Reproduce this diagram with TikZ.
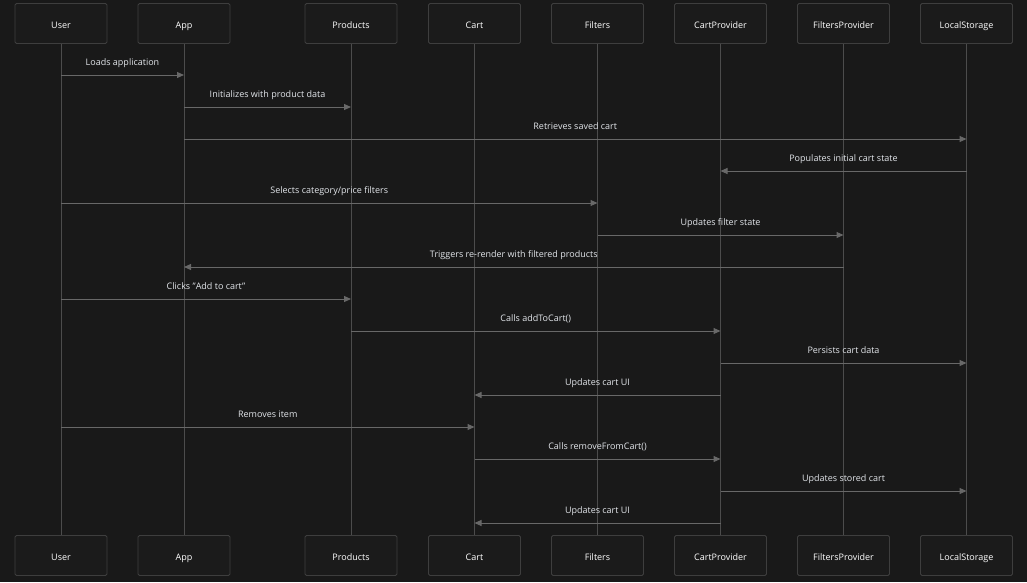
\documentclass[tikz,border=0pt]{standalone}
\usepackage{fontspec}
\setmainfont{Open Sans}
\usetikzlibrary{arrows.meta,calc}
\definecolor{bg}{HTML}{191919}
\definecolor{boxfill}{HTML}{1B1B1B}
\definecolor{boxline}{HTML}{3E3E3E}
\definecolor{lifeline}{HTML}{4C4C4C}
\definecolor{msgline}{HTML}{686868}
\definecolor{msgtext}{HTML}{E2E5EA}
\tikzset{
  actor/.style={draw=boxline, fill=boxfill, rounded corners=1.5pt, line width=0.8pt,
    minimum width=92pt, minimum height=40pt, inner sep=0pt, text=white,
    text height=10pt, text depth=0pt,
    font=\fontsize{9}{10}\selectfont},
  life/.style={draw=lifeline, line width=1pt},
  msg/.style={draw=msgline, line width=1pt, -{Triangle[length=7pt,width=6pt]}},
  lbl/.style={text=msgtext, font=\fontsize{9}{10}\selectfont, inner sep=0pt, anchor=base}
}
\begin{document}
\begin{tikzpicture}[x=1pt,y=-1pt]
\useasboundingbox[fill=bg] (0,0) rectangle (1027,582);
% actors
\foreach \n/\t/\x in {User/User/61, App/App/184, Products/Products/351, Cart/Cart/474.5,
  Filters/Filters/597.5, CP/CartProvider/720.5, FP/FiltersProvider/843.5, LS/LocalStorage/966.5}{
  \node[actor] (t\n) at (\x,23.5) {\t};
  \node[actor] (b\n) at (\x,555.5) {\t};
  \draw[life] (t\n.south) -- (b\n.north);
}
% messages
\foreach \i/\a/\b/\y/\txt in {
  1/User/App/75/{Loads application},
  2/App/Products/107/{Initializes with product data},
  3/App/LS/139/{Retrieves saved cart},
  4/LS/CP/171/{Populates initial cart state},
  5/User/Filters/203/{Selects category/price filters},
  6/Filters/FP/235/{Updates filter state},
  7/FP/App/267/{Triggers re-render with filtered products},
  8/User/Products/299/{Clicks "Add to cart"},
  9/Products/CP/331/{Calls addToCart()},
  10/CP/LS/363/{Persists cart data},
  11/CP/Cart/395/{Updates cart UI},
  12/User/Cart/427/{Removes item},
  13/Cart/CP/459/{Calls removeFromCart()},
  14/CP/LS/491/{Updates stored cart},
  15/CP/Cart/523/{Updates cart UI}}{
  \coordinate (s\i) at (t\a.south |- 0,\y);
  \coordinate (e\i) at (t\b.south |- 0,\y);
  \draw[msg] (s\i) -- (e\i);
  \node[lbl] (l\i) at ($(s\i)!0.5!(e\i)+(0,-9.5)$) {\txt};
}
\end{tikzpicture}
\end{document}
